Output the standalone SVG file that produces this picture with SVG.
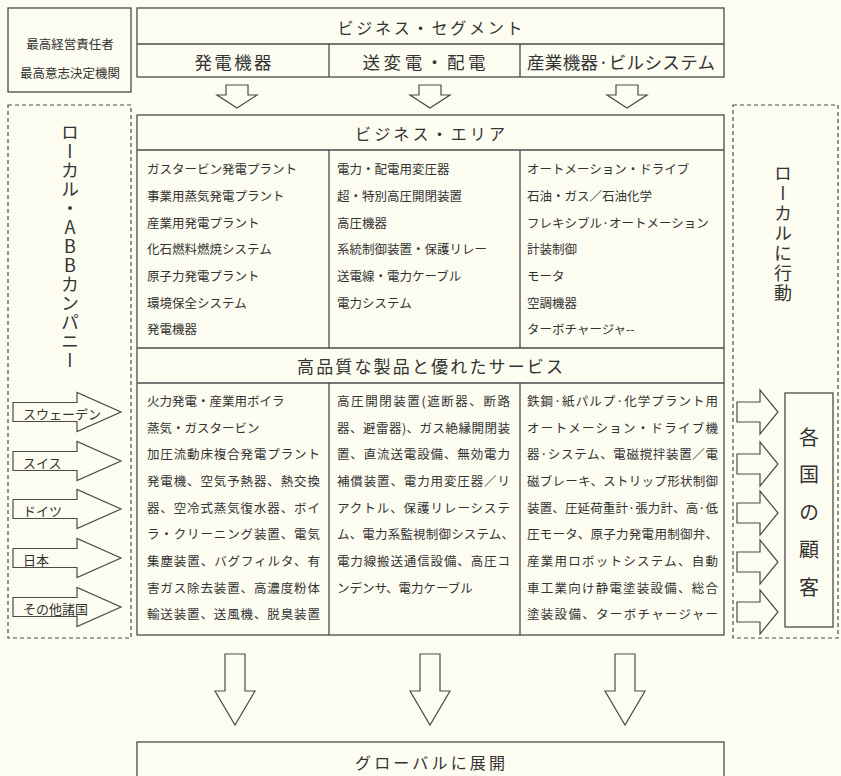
<svg xmlns="http://www.w3.org/2000/svg" xmlns:xlink="http://www.w3.org/1999/xlink" width="841" height="776" viewBox="0 0 841 776">
<style>
  .bg{fill:#fdfcf1}
  .box{fill:#fdfcf1;stroke:#4a4a4a;stroke-width:1.3}
  .ln{stroke:#4a4a4a;stroke-width:1.3;fill:none}
  .dash{fill:none;stroke:#4a4a4a;stroke-width:1.2;stroke-dasharray:4 3}
  .arr{fill:#fdfcf1;stroke:#4a4a4a;stroke-width:1.2;stroke-linejoin:miter}
  text{font-family:"Noto Sans CJK JP","Noto Sans CJK SC",sans-serif;fill:#333}
  .t13{font-size:12.5px;dominant-baseline:central}
  .hd{font-size:16px;dominant-baseline:central;text-anchor:middle}
  .sub{font-size:17.5px;dominant-baseline:central;text-anchor:middle}
  .lbl{font-size:13px;dominant-baseline:central}
  .vt{font-size:18px;writing-mode:vertical-rl;text-orientation:upright}
</style>
<defs>
  <path id="dsmall" d="M-11,85 H11 V95 H20 L0,108 L-20,95 H-11 Z"/>
  <path id="dbig" d="M-10,654 H10 V691 H20 L0,725 L-20,691 H-10 Z"/>
  <path id="rleft" d="M13,-9.5 H77 V-19.5 L121,0 L77,19.5 V9.5 H13 Z"/>
  <path id="rright" d="M737,-10 H760 V-22 L778,0 L760,22 V10 H737 Z"/>
</defs>
<rect class="bg" x="0" y="0" width="841" height="776"/>

<g id="top-management">
  <rect class="box" x="8" y="8" width="123" height="84"/>
  <text class="t13" x="70" y="43" text-anchor="middle">最高経営責任者</text>
  <text class="t13" x="70" y="72" text-anchor="middle">最高意志決定機関</text>
</g>

<g id="business-segment">
  <rect class="box" x="137" y="8" width="587" height="69"/>
  <line class="ln" x1="137" y1="44" x2="724" y2="44"/>
  <line class="ln" x1="329" y1="44" x2="329" y2="77"/>
  <line class="ln" x1="520" y1="44" x2="520" y2="77"/>
  <text class="hd" x="430" y="27" textLength="185" lengthAdjust="spacing">ビジネス・セグメント</text>
  <text class="sub" x="233" y="61" textLength="77" lengthAdjust="spacing">発電機器</text>
  <text class="sub" x="424" y="61" textLength="123" lengthAdjust="spacing">送変電・配電</text>
  <text class="sub" x="621" y="61" textLength="188" lengthAdjust="spacing">産業機器·ビルシステム</text>
</g>

<g id="local-abb-company">
  <rect class="dash" x="8" y="105" width="123" height="533"/>
  <text class="vt" x="70" y="123" letter-spacing="1">ローカル・ABBカンパニー</text>
</g>

<g id="local-action">
  <rect class="dash" x="733" y="105" width="105" height="533"/>
  <text class="vt" x="783" y="164" letter-spacing="2">ローカルに行動</text>
</g>

<g id="business-area">
  <rect class="box" x="137" y="115" width="587" height="520"/>
  <line class="ln" x1="137" y1="150" x2="724" y2="150"/>
  <line class="ln" x1="137" y1="348" x2="724" y2="348"/>
  <line class="ln" x1="137" y1="383" x2="724" y2="383"/>
  <line class="ln" x1="329" y1="150" x2="329" y2="348"/>
  <line class="ln" x1="520" y1="150" x2="520" y2="348"/>
  <line class="ln" x1="329" y1="383" x2="329" y2="635"/>
  <line class="ln" x1="520" y1="383" x2="520" y2="635"/>
  <text class="hd" x="430" y="133" textLength="150" lengthAdjust="spacing">ビジネス・エリア</text>
  <g id="area-power">
    <text class="t13" x="147" y="168">ガスタービン発電プラント</text>
    <text class="t13" x="147" y="195">事業用蒸気発電プラント</text>
    <text class="t13" x="147" y="222">産業用発電プラント</text>
    <text class="t13" x="147" y="248">化石燃料燃焼システム</text>
    <text class="t13" x="147" y="275">原子力発電プラント</text>
    <text class="t13" x="147" y="302">環境保全システム</text>
    <text class="t13" x="147" y="328">発電機器</text>
  </g>
  <g id="area-transmission">
    <text class="t13" x="337" y="168">電力・配電用変圧器</text>
    <text class="t13" x="337" y="195">超・特別高圧開閉装置</text>
    <text class="t13" x="337" y="222">高圧機器</text>
    <text class="t13" x="337" y="248">系統制御装置・保護リレー</text>
    <text class="t13" x="337" y="275">送電線・電力ケーブル</text>
    <text class="t13" x="337" y="302">電力システム</text>
  </g>
  <g id="area-industry">
    <text class="t13" x="527" y="168">オートメーション・ドライブ</text>
    <text class="t13" x="527" y="195">石油・ガス／石油化学</text>
    <text class="t13" x="527" y="222">フレキシブル·オートメーション</text>
    <text class="t13" x="527" y="248">計装制御</text>
    <text class="t13" x="527" y="275">モータ</text>
    <text class="t13" x="527" y="302">空調機器</text>
    <text class="t13" x="527" y="328">ターボチャージャ--</text>
  </g>
  <text class="hd" x="430" y="365" style="font-size:17px" textLength="266" lengthAdjust="spacing">高品質な製品と優れたサービス</text>
  <g id="products-power">
    <text class="t13" x="147" y="400">火力発電・産業用ボイラ</text>
    <text class="t13" x="147" y="427">蒸気・ガスタービン</text>
    <text class="t13" x="147" y="453" textLength="173" lengthAdjust="spacing">加圧流動床複合発電プラント</text>
    <text class="t13" x="147" y="480" textLength="173" lengthAdjust="spacing">発電機、空気予熱器、熱交換</text>
    <text class="t13" x="147" y="507" textLength="173" lengthAdjust="spacing">器、空冷式蒸気復水器、ボイ</text>
    <text class="t13" x="147" y="533" textLength="173" lengthAdjust="spacing">ラ・クリーニング装置、電気</text>
    <text class="t13" x="147" y="560" textLength="173" lengthAdjust="spacing">集塵装置、バグフィルタ、有</text>
    <text class="t13" x="147" y="587" textLength="173" lengthAdjust="spacing">害ガス除去装置、高濃度粉体</text>
    <text class="t13" x="147" y="613" textLength="173" lengthAdjust="spacing">輸送装置、送風機、脱臭装置</text>
  </g>
  <g id="products-transmission">
    <text class="t13" x="337" y="400" textLength="173" lengthAdjust="spacing">高圧開閉装置(遮断器、断路</text>
    <text class="t13" x="337" y="427" textLength="173" lengthAdjust="spacing">器、避雷器)、ガス絶縁開閉装</text>
    <text class="t13" x="337" y="453" textLength="173" lengthAdjust="spacing">置、直流送電設備、無効電力</text>
    <text class="t13" x="337" y="480" textLength="173" lengthAdjust="spacing">補償装置、電力用変圧器／リ</text>
    <text class="t13" x="337" y="507" textLength="173" lengthAdjust="spacing">アクトル、保護リレーシステ</text>
    <text class="t13" x="337" y="533" textLength="177" lengthAdjust="spacing">ム、電力系監視制御システム、</text>
    <text class="t13" x="337" y="560" textLength="173" lengthAdjust="spacing">電力線搬送通信設備、高圧コ</text>
    <text class="t13" x="337" y="587">ンデンサ、電力ケーブル</text>
  </g>
  <g id="products-industry">
    <text class="t13" x="527" y="400" textLength="191" lengthAdjust="spacing">鉄鋼·紙パルプ·化学プラント用</text>
    <text class="t13" x="527" y="427" textLength="191" lengthAdjust="spacing">オートメーション・ドライブ機</text>
    <text class="t13" x="527" y="453" textLength="191" lengthAdjust="spacing">器·システム、電磁撹拌装置／電</text>
    <text class="t13" x="527" y="480" textLength="191" lengthAdjust="spacing">磁ブレーキ、ストリップ形状制御</text>
    <text class="t13" x="527" y="507" textLength="191" lengthAdjust="spacing">装置、圧延荷重計·張力計、高·低</text>
    <text class="t13" x="527" y="533" textLength="191" lengthAdjust="spacing">圧モータ、原子力発電用制御弁、</text>
    <text class="t13" x="527" y="560" textLength="191" lengthAdjust="spacing">産業用ロボットシステム、自動</text>
    <text class="t13" x="527" y="587" textLength="191" lengthAdjust="spacing">車工業向け静電塗装設備、総合</text>
    <text class="t13" x="527" y="613" textLength="191" lengthAdjust="spacing">塗装設備、ターボチャージャー</text>
  </g>
</g>

<g id="customers">
  <rect class="box" x="785" y="393" width="48" height="234"/>
  <text class="vt" x="809" y="427" style="font-size:20px" letter-spacing="17.5">各国の顧客</text>
</g>

<g id="global">
  <rect class="box" x="137" y="742" width="587" height="40"/>
  <text class="hd" x="430" y="762" textLength="150" lengthAdjust="spacing">グローバルに展開</text>
</g>

<g id="connectors">
  <use href="#dsmall" class="arr" x="237"/>
  <use href="#dsmall" class="arr" x="430"/>
  <use href="#dsmall" class="arr" x="627"/>
  <use href="#dbig" class="arr" x="235"/>
  <use href="#dbig" class="arr" x="430"/>
  <use href="#dbig" class="arr" x="625"/>
  <use href="#rright" class="arr" y="412"/>
  <use href="#rright" class="arr" y="464"/>
  <use href="#rright" class="arr" y="513"/>
  <use href="#rright" class="arr" y="562"/>
  <use href="#rright" class="arr" y="612"/>
</g>

<g id="country-sweden">
  <use href="#rleft" class="arr" y="412"/>
  <text class="lbl" x="23" y="413">スウェーデン</text>
</g>
<g id="country-switzerland">
  <use href="#rleft" class="arr" y="461"/>
  <text class="lbl" x="23" y="462">スイス</text>
</g>
<g id="country-germany">
  <use href="#rleft" class="arr" y="509"/>
  <text class="lbl" x="23" y="510">ドイツ</text>
</g>
<g id="country-japan">
  <use href="#rleft" class="arr" y="558"/>
  <text class="lbl" x="23" y="559">日本</text>
</g>
<g id="country-others">
  <use href="#rleft" class="arr" y="607"/>
  <text class="lbl" x="23" y="608">その他諸国</text>
</g>
</svg>
